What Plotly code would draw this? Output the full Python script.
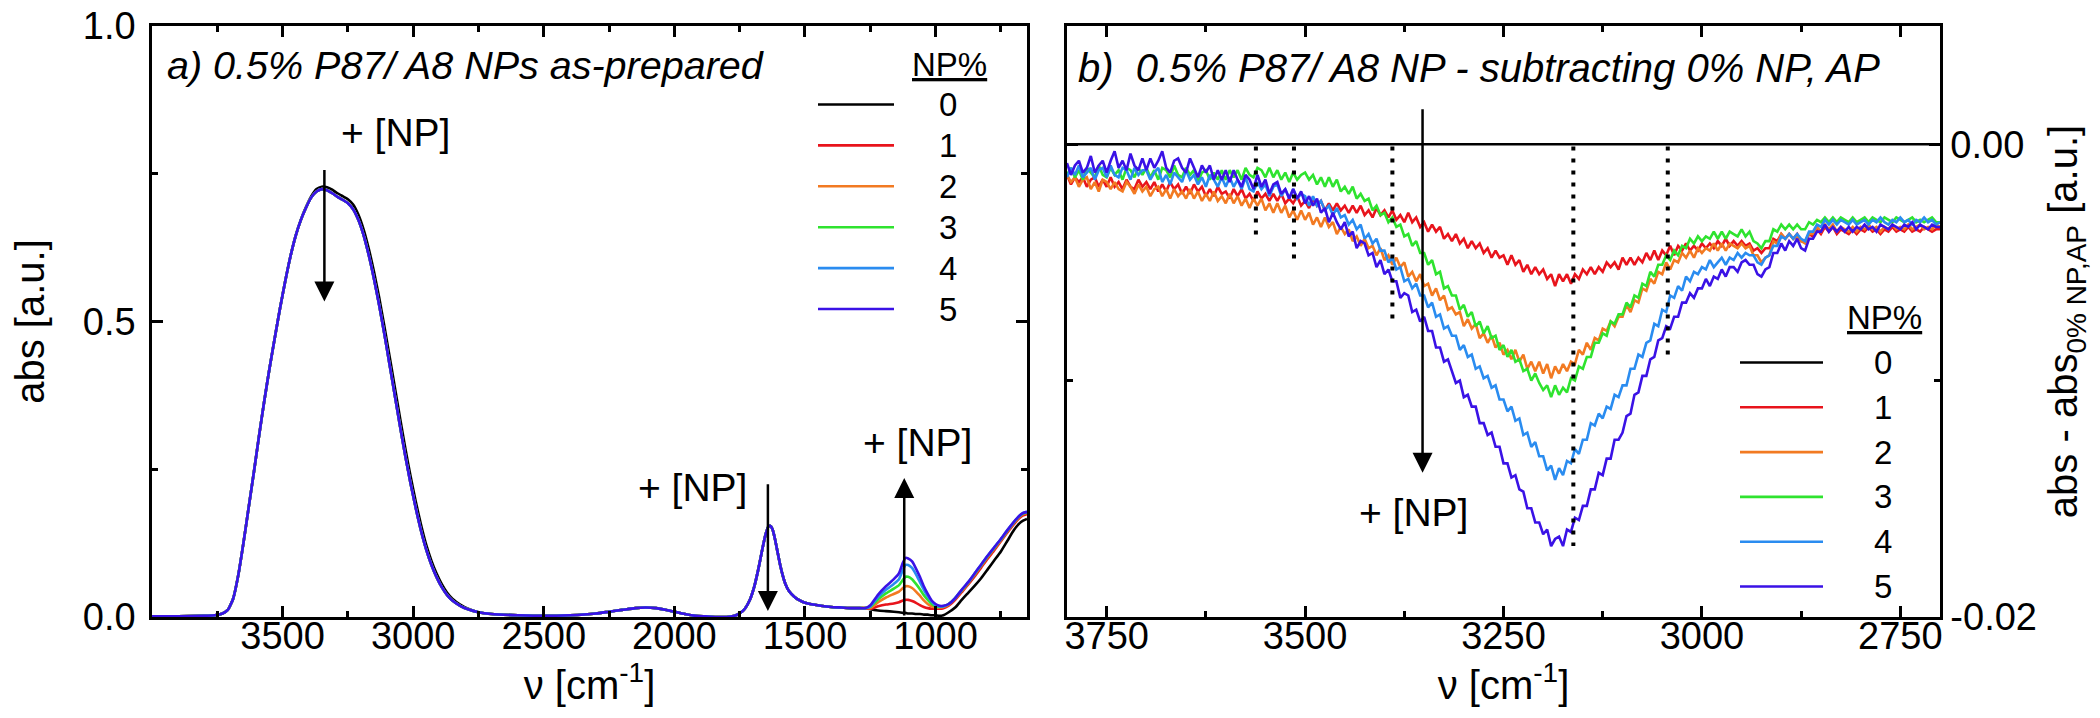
import plotly.graph_objects as go

FONT = "Liberation Sans, Arial, Helvetica, sans-serif"

# ---------------- series meta ----------------
np_labels = ["0", "1", "2", "3", "4", "5"]
np_colors = ["#000000", "#e8141c", "#f27a22", "#2fe32f", "#2a8cf0", "#3a12e6"]

# ---------------- panel a) as-prepared spectra ----------------
nu_a_head = [4000, 3900, 3800, 3760, 3730, 3710, 3690, 3670, 3650, 3630,
             3610, 3590, 3570, 3550, 3530, 3510, 3490, 3470, 3450, 3430,
             3410, 3390, 3370, 3350, 3330, 3310, 3290, 3270, 3250, 3230,
             3210, 3190, 3170, 3150, 3130, 3110, 3090, 3070, 3050, 3030,
             3010, 2990, 2970, 2950, 2930, 2910, 2890, 2870, 2850, 2820,
             2790, 2750, 2700, 2600, 2500, 2400, 2300, 2250, 2200, 2150,
             2110, 2070, 2030, 2000, 1960, 1920, 1880, 1840, 1800, 1770,
             1750, 1730, 1710, 1695, 1680, 1670, 1660, 1650, 1640, 1632,
             1624, 1615, 1605, 1595, 1585, 1575, 1560, 1540, 1520, 1500,
             1470, 1440, 1400, 1360, 1320, 1290, 1270]

abs_head_np = [0.001, 0.001, 0.002, 0.003, 0.006, 0.012, 0.030, 0.070, 0.125, 0.185,
               0.245, 0.307, 0.366, 0.421, 0.472, 0.522, 0.568, 0.610, 0.645, 0.672,
               0.693, 0.710, 0.720, 0.724, 0.722, 0.717, 0.711, 0.706, 0.700, 0.690,
               0.672, 0.646, 0.612, 0.572, 0.527, 0.478, 0.426, 0.374, 0.322, 0.272,
               0.226, 0.184, 0.146, 0.114, 0.088, 0.067, 0.050, 0.037, 0.028, 0.019,
               0.013, 0.008, 0.005, 0.003, 0.002, 0.003, 0.006, 0.009, 0.012, 0.015,
               0.016, 0.015, 0.012, 0.009, 0.005, 0.002, 0.001, 0.000, 0.000, 0.002,
               0.006, 0.014, 0.030, 0.050, 0.078, 0.100, 0.122, 0.141, 0.153, 0.154,
               0.148, 0.132, 0.110, 0.088, 0.070, 0.056, 0.043, 0.034, 0.028, 0.024,
               0.021, 0.019, 0.017, 0.016, 0.015, 0.015, 0.015]

abs_head_0 = [0.001, 0.001, 0.002, 0.003, 0.006, 0.012, 0.030, 0.070, 0.125, 0.185,
              0.245, 0.307, 0.366, 0.421, 0.472, 0.522, 0.568, 0.610, 0.645, 0.672,
              0.694, 0.712, 0.724, 0.728, 0.727, 0.723, 0.717, 0.712, 0.707, 0.698,
              0.681, 0.656, 0.623, 0.584, 0.540, 0.491, 0.440, 0.388, 0.336, 0.285,
              0.238, 0.195, 0.156, 0.122, 0.095, 0.073, 0.055, 0.041, 0.031, 0.021,
              0.014, 0.008, 0.005, 0.003, 0.002, 0.003, 0.006, 0.009, 0.012, 0.015,
              0.016, 0.015, 0.012, 0.009, 0.005, 0.002, 0.001, 0.000, 0.000, 0.002,
              0.006, 0.014, 0.030, 0.050, 0.078, 0.100, 0.122, 0.141, 0.153, 0.154,
              0.148, 0.132, 0.110, 0.088, 0.070, 0.056, 0.043, 0.034, 0.028, 0.024,
              0.021, 0.019, 0.017, 0.016, 0.015, 0.015, 0.015]

nu_a_tail = [1250, 1220, 1190, 1160, 1140, 1125, 1115, 1105, 1090, 1075,
             1060, 1045, 1030, 1015, 1000, 985, 970, 950, 925, 900,
             875, 850, 825, 800, 775, 750, 725, 700, 680, 665,
             650]

abs_tail_0 = [0.013, 0.011, 0.010, 0.009, 0.008, 0.007, 0.007, 0.006, 0.006, 0.005,
              0.005, 0.004, 0.004, 0.003, 0.003, 0.002, 0.003, 0.008, 0.016, 0.029,
              0.041, 0.053, 0.066, 0.081, 0.096, 0.111, 0.129, 0.147, 0.158, 0.163,
              0.166]
abs_tail_1 = [0.014, 0.018, 0.021, 0.023, 0.025, 0.028, 0.029, 0.029, 0.027, 0.024,
              0.020, 0.017, 0.015, 0.014, 0.014, 0.014, 0.015, 0.019, 0.029, 0.042,
              0.055, 0.069, 0.084, 0.099, 0.113, 0.128, 0.143, 0.157, 0.167, 0.172,
              0.174]
abs_tail_2 = [0.015, 0.025, 0.033, 0.039, 0.043, 0.049, 0.052, 0.052, 0.049, 0.043,
              0.036, 0.028, 0.022, 0.018, 0.016, 0.016, 0.017, 0.021, 0.031, 0.044,
              0.057, 0.072, 0.087, 0.102, 0.116, 0.130, 0.145, 0.159, 0.169, 0.174,
              0.176]
abs_tail_3 = [0.017, 0.030, 0.040, 0.048, 0.054, 0.063, 0.068, 0.068, 0.064, 0.056,
              0.047, 0.037, 0.029, 0.022, 0.018, 0.017, 0.018, 0.022, 0.032, 0.045,
              0.058, 0.073, 0.088, 0.103, 0.117, 0.131, 0.146, 0.160, 0.170, 0.175,
              0.177]
abs_tail_4 = [0.018, 0.034, 0.046, 0.056, 0.064, 0.080, 0.088, 0.088, 0.083, 0.072,
              0.059, 0.046, 0.035, 0.026, 0.020, 0.018, 0.018, 0.022, 0.032, 0.046,
              0.059, 0.074, 0.089, 0.104, 0.118, 0.132, 0.147, 0.161, 0.171, 0.176,
              0.178]
abs_tail_5 = [0.020, 0.038, 0.052, 0.064, 0.074, 0.092, 0.100, 0.099, 0.094, 0.082,
              0.068, 0.052, 0.039, 0.028, 0.022, 0.019, 0.019, 0.022, 0.032, 0.046,
              0.059, 0.074, 0.089, 0.104, 0.118, 0.132, 0.147, 0.161, 0.171, 0.176,
              0.178]

# ---------------- panel b) difference spectra (units of 1e-3 a.u.) ----------------
nu_b = list(range(3800, 2699, -5))   # instrument grid 3800 ... 2700 cm-1, 5 cm-1 steps
nu_b_zero = [3800, 2700]
diff_0 = [0.0, 0.0]

diff_1_milli = [
    -1.3, -1.7, -1.4, -1.6, -1.4, -1.8, -1.5, -1.4, -1.8, -1.5, -1.8, -1.4, -1.8, -1.6, -1.9, -1.5, -1.8, -1.9, -1.5, -1.8,
    -1.6, -1.9, -1.6, -2.0, -1.7, -2.0, -1.6, -1.9, -1.7, -2.1, -1.8, -2.1, -1.7, -2.0, -1.8, -2.2, -1.9, -2.2, -1.8, -2.1,
    -2.0, -2.3, -1.9, -2.2, -1.9, -2.3, -2.1, -2.4, -2.0, -2.3, -2.1, -2.4, -2.1, -2.4, -2.1, -2.5, -2.3, -2.5, -2.2, -2.6,
    -2.4, -2.7, -2.3, -2.6, -2.4, -2.8, -2.5, -2.8, -2.5, -2.8, -2.6, -2.9, -2.6, -2.9, -2.6, -3.0, -2.8, -3.1, -2.7, -3.0,
    -2.8, -3.1, -2.8, -3.2, -3.0, -3.3, -2.9, -3.3, -3.1, -3.5, -3.3, -3.7, -3.4, -3.7, -3.5, -4.0, -3.8, -4.1, -3.8, -4.2,
    -4.0, -4.4, -4.1, -4.4, -4.2, -4.6, -4.4, -4.8, -4.5, -4.8, -4.7, -5.1, -4.7, -5.1, -4.9, -5.4, -5.1, -5.5, -5.2, -5.5,
    -5.3, -5.7, -5.5, -6.0, -5.5, -5.8, -5.5, -5.9, -5.5, -5.7, -5.3, -5.5, -5.2, -5.5, -5.2, -5.4, -5.0, -5.2, -5.0, -5.3,
    -4.8, -5.1, -4.8, -5.1, -4.8, -5.0, -4.6, -4.9, -4.5, -4.9, -4.5, -4.7, -4.3, -4.7, -4.3, -4.5, -4.2, -4.5, -4.3, -4.5,
    -4.2, -4.4, -4.2, -4.4, -4.1, -4.3, -4.0, -4.3, -4.1, -4.3, -4.1, -4.3, -4.2, -4.5, -4.4, -4.6, -4.4, -4.4, -4.0, -4.1,
    -3.8, -4.0, -3.8, -4.0, -3.8, -4.1, -4.1, -3.8, -3.9, -3.6, -3.8, -3.5, -3.7, -3.5, -3.8, -3.6, -3.7, -3.8, -3.6, -3.8,
    -3.6, -3.7, -3.5, -3.7, -3.6, -3.8, -3.6, -3.7, -3.5, -3.7, -3.6, -3.7, -3.5, -3.7, -3.6, -3.7, -3.5, -3.6, -3.7, -3.6,
    -3.6]
diff_2_milli = [
    -1.3, -1.6, -1.4, -1.8, -1.5, -1.4, -1.9, -1.6, -2.0, -1.5, -1.6, -1.9, -1.6, -1.9, -2.0, -1.6, -1.8, -2.1, -1.7, -2.0,
    -1.8, -2.2, -1.9, -1.8, -2.2, -1.9, -2.3, -1.9, -2.2, -2.0, -2.3, -1.9, -2.3, -2.0, -2.4, -2.1, -2.4, -2.0, -2.4, -2.2,
    -2.5, -2.1, -2.5, -2.2, -2.6, -2.3, -2.7, -2.3, -2.6, -2.3, -2.8, -2.5, -2.9, -2.5, -2.9, -2.6, -3.1, -2.8, -3.2, -2.8,
    -3.2, -2.9, -3.4, -3.1, -3.5, -3.1, -3.5, -3.3, -3.8, -3.5, -3.8, -3.6, -4.1, -3.9, -4.3, -4.0, -4.4, -4.3, -4.7, -4.4,
    -4.9, -4.7, -5.1, -4.8, -5.2, -5.0, -5.6, -5.4, -5.8, -5.5, -6.0, -5.9, -6.4, -6.1, -6.6, -6.4, -7.0, -6.9, -7.2, -7.1,
    -7.7, -7.4, -7.8, -7.6, -8.2, -8.0, -8.4, -8.1, -8.6, -8.4, -8.9, -8.7, -9.1, -8.7, -9.2, -8.9, -9.5, -9.2, -9.6, -9.2,
    -9.7, -9.3, -9.9, -9.4, -9.7, -9.3, -9.6, -9.2, -9.3, -8.7, -8.9, -8.4, -8.7, -8.2, -8.3, -7.8, -7.9, -7.5, -7.7, -7.3,
    -7.3, -6.8, -7.1, -6.6, -6.7, -6.1, -6.2, -5.7, -5.9, -5.4, -5.5, -5.0, -5.3, -4.9, -5.0, -4.6, -4.8, -4.5, -4.8, -4.4,
    -4.6, -4.4, -4.5, -4.2, -4.5, -4.2, -4.5, -4.2, -4.3, -4.4, -4.2, -4.4, -4.3, -4.7, -4.7, -5.0, -4.8, -4.7, -4.1, -4.2,
    -3.8, -4.0, -3.8, -4.0, -3.9, -4.1, -4.2, -3.8, -3.8, -3.5, -3.7, -3.4, -3.6, -3.4, -3.7, -3.5, -3.6, -3.7, -3.5, -3.7,
    -3.5, -3.6, -3.4, -3.6, -3.5, -3.7, -3.5, -3.6, -3.4, -3.6, -3.5, -3.6, -3.4, -3.6, -3.5, -3.4, -3.6, -3.5, -3.6, -3.4,
    -3.5]
diff_3_milli = [
    -1.3, -1.0, -1.4, -1.1, -1.5, -1.0, -1.2, -1.4, -0.9, -1.3, -1.4, -1.0, -1.3, -1.1, -1.5, -1.0, -1.1, -1.4, -1.0, -1.3,
    -1.0, -1.4, -1.1, -1.5, -1.0, -1.1, -1.4, -0.9, -1.3, -1.4, -1.0, -1.3, -1.1, -1.6, -1.2, -1.1, -1.5, -1.2, -1.5, -1.1,
    -1.5, -1.1, -1.4, -1.1, -1.5, -1.0, -1.3, -1.4, -1.0, -1.1, -1.4, -1.0, -1.4, -1.1, -1.5, -1.2, -1.6, -1.2, -1.5, -1.3,
    -1.2, -1.5, -1.3, -1.7, -1.4, -1.8, -1.4, -1.8, -1.5, -2.0, -1.8, -2.1, -1.8, -2.3, -2.1, -2.4, -2.3, -2.8, -2.6, -3.0,
    -2.9, -3.3, -3.1, -3.5, -3.4, -3.9, -3.8, -4.3, -4.1, -4.6, -4.6, -5.1, -4.9, -5.5, -5.4, -6.1, -6.0, -6.4, -6.4, -7.0,
    -6.8, -7.3, -7.1, -7.7, -7.5, -8.0, -7.7, -8.2, -8.1, -8.7, -8.5, -9.0, -8.7, -9.2, -9.1, -9.6, -9.5, -10.0, -9.7, -10.1,
    -10.4, -10.2, -10.7, -10.2, -10.6, -10.3, -10.5, -9.9, -10.0, -9.4, -9.5, -9.0, -9.0, -8.4, -8.4, -8.0, -8.1, -7.5, -7.6, -7.2,
    -7.2, -6.7, -6.9, -6.4, -6.5, -5.9, -6.0, -5.4, -5.6, -5.1, -5.1, -4.7, -4.9, -4.5, -4.7, -4.3, -4.4, -4.0, -4.2, -3.9,
    -4.1, -3.9, -4.0, -3.7, -4.0, -3.7, -4.0, -3.7, -3.8, -3.9, -3.6, -3.9, -3.7, -4.1, -4.2, -4.4, -4.1, -4.1, -3.6, -3.7,
    -3.4, -3.6, -3.4, -3.6, -3.4, -3.6, -3.6, -3.3, -3.4, -3.2, -3.3, -3.1, -3.3, -3.1, -3.3, -3.1, -3.2, -3.3, -3.1, -3.3,
    -3.2, -3.1, -3.3, -3.1, -3.2, -3.3, -3.1, -3.2, -3.3, -3.1, -3.2, -3.3, -3.2, -3.1, -3.3, -3.2, -3.3, -3.2, -3.1, -3.3,
    -3.3]
diff_4_milli = [
    -1.4, -1.0, -1.3, -0.9, -1.4, -1.2, -1.0, -1.5, -1.1, -1.0, -1.4, -0.9, -1.3, -1.4, -1.0, -1.1, -1.5, -1.0, -1.3, -1.1,
    -1.1, -1.5, -1.2, -1.0, -1.6, -1.3, -1.7, -1.2, -1.4, -1.6, -1.1, -1.5, -1.3, -1.7, -1.4, -1.8, -1.3, -1.5, -1.8, -1.4,
    -1.8, -1.4, -1.8, -1.5, -1.9, -1.4, -1.9, -2.0, -1.6, -1.9, -1.7, -2.2, -1.8, -1.7, -2.2, -1.9, -2.3, -1.9, -2.3, -2.1,
    -2.2, -2.6, -2.2, -2.6, -2.4, -2.8, -2.6, -3.0, -2.7, -3.1, -3.0, -3.4, -3.2, -3.6, -3.4, -4.0, -3.8, -4.2, -4.0, -4.5,
    -4.5, -5.0, -4.8, -5.3, -5.2, -5.8, -5.7, -6.1, -5.9, -6.4, -6.4, -6.9, -6.7, -7.3, -7.2, -7.8, -7.7, -8.1, -8.1, -8.7,
    -8.5, -9.0, -8.9, -9.5, -9.4, -9.9, -9.8, -10.3, -10.2, -10.8, -10.8, -11.3, -11.1, -11.7, -11.6, -12.3, -12.2, -12.8, -12.6, -13.2,
    -13.2, -13.8, -13.6, -14.2, -13.7, -14.0, -13.4, -13.5, -12.9, -13.1, -12.5, -12.5, -11.8, -11.9, -11.4, -11.6, -11.1, -11.2, -10.6, -10.7,
    -10.2, -10.2, -9.5, -9.5, -8.9, -9.0, -8.4, -8.3, -7.6, -7.7, -7.0, -7.1, -6.4, -6.5, -6.0, -6.2, -5.6, -5.8, -5.4, -5.5,
    -5.2, -5.3, -4.9, -5.2, -5.0, -4.8, -5.1, -4.8, -4.9, -4.6, -4.8, -4.6, -4.7, -4.7, -5.0, -5.1, -4.8, -4.7, -4.3, -4.3,
    -3.9, -4.0, -3.8, -4.0, -3.8, -4.0, -4.1, -3.7, -3.7, -3.4, -3.5, -3.2, -3.4, -3.2, -3.4, -3.2, -3.3, -3.4, -3.2, -3.4,
    -3.3, -3.2, -3.4, -3.2, -3.3, -3.1, -3.3, -3.4, -3.2, -3.3, -3.1, -3.3, -3.2, -3.4, -3.2, -3.3, -3.1, -3.3, -3.2, -3.4,
    -3.3]
diff_5_milli = [
    -0.8, -1.3, -0.9, -0.7, -1.2, -1.0, -0.5, -1.2, -0.9, -0.7, -1.2, -0.7, -0.3, -1.0, -0.7, -1.1, -0.4, -0.9, -1.1, -0.6,
    -1.1, -0.6, -1.0, -0.7, -0.3, -1.0, -1.2, -0.7, -0.6, -1.0, -1.2, -0.6, -1.0, -1.4, -0.9, -1.2, -0.9, -1.5, -1.1, -1.5,
    -1.1, -1.6, -1.1, -1.5, -1.8, -1.3, -1.5, -1.9, -1.3, -1.8, -1.5, -2.1, -1.7, -1.6, -2.1, -1.9, -2.3, -1.9, -2.3, -2.0,
    -2.5, -2.2, -2.6, -2.3, -2.9, -2.7, -3.3, -2.9, -3.3, -3.6, -3.3, -3.9, -3.7, -4.4, -4.1, -4.2, -4.7, -4.6, -5.2, -4.9,
    -5.5, -5.3, -5.8, -5.8, -6.5, -6.3, -6.4, -7.1, -7.0, -7.5, -7.3, -7.9, -7.9, -8.6, -8.6, -9.2, -9.1, -9.6, -10.1, -10.0,
    -10.7, -10.6, -11.1, -11.1, -11.8, -11.8, -12.3, -12.2, -12.8, -12.8, -13.5, -13.5, -14.1, -14.0, -14.6, -14.7, -15.4, -15.4, -16.0, -16.0,
    -16.5, -16.3, -17.0, -16.7, -16.6, -17.0, -16.3, -16.4, -15.8, -15.9, -15.3, -15.3, -14.6, -14.6, -13.9, -14.0, -13.3, -13.3, -12.5, -12.5,
    -12.2, -11.5, -11.4, -10.6, -10.5, -9.8, -9.8, -9.1, -9.0, -8.3, -8.2, -7.7, -7.8, -7.3, -7.3, -6.7, -6.7, -6.3, -6.5, -6.1,
    -6.1, -5.7, -6.0, -5.6, -5.7, -5.3, -5.6, -5.2, -5.2, -5.4, -5.0, -4.9, -5.1, -5.1, -5.5, -5.6, -5.3, -5.2, -4.6, -4.6,
    -4.2, -4.5, -4.1, -4.3, -4.0, -4.4, -4.5, -4.0, -4.0, -3.7, -3.7, -3.4, -3.7, -3.5, -3.7, -3.5, -3.7, -3.5, -3.7, -3.5,
    -3.6, -3.4, -3.6, -3.5, -3.7, -3.4, -3.5, -3.6, -3.4, -3.5, -3.6, -3.4, -3.5, -3.3, -3.6, -3.4, -3.5, -3.6, -3.4, -3.5,
    -3.5]

# marker lines in panel b (position cm-1, lower end in a.u.)
dotted_nu = [3562, 3514, 3390, 3162, 3043]
dotted_low = [-0.0040, -0.0050, -0.0075, -0.0170, -0.0090]

# "+ [NP]" arrows: (x, tip y, tail y)
arrows_a = [(3340, 0.534, 0.759), (1642, 0.010, 0.227), (1120, 0.235, 0.0)]
labels_a = [(3068, 0.819), (1932, 0.219), (1070, 0.296)]
arrow_b = (3352, -0.0139, 0.00154)
label_b = (3363, -0.0156)

# ---------------- build figure ----------------
W, H = 2100, 718
ML, MR, MT, MB = 144, 168, 18, 109
PW, PH = W - ML - MR, H - MT - MB


def px(xp, yp):
    return (xp - ML) / PW, (H - MB - yp) / PH


fig = go.Figure()

tails_a = [abs_tail_0, abs_tail_1, abs_tail_2, abs_tail_3, abs_tail_4, abs_tail_5]
for i in range(6):
    head = abs_head_0 if i == 0 else abs_head_np
    fig.add_trace(go.Scatter(
        x=nu_a_head + nu_a_tail, y=head + tails_a[i], mode="lines",
        name=np_labels[i], showlegend=False, xaxis="x", yaxis="y",
        line=dict(color=np_colors[i], width=2.6, shape="spline", smoothing=0.5)))

diffs_b = [diff_1_milli, diff_2_milli, diff_3_milli, diff_4_milli, diff_5_milli]
fig.add_trace(go.Scatter(x=nu_b_zero, y=diff_0, mode="lines", name="0",
                         showlegend=False, xaxis="x2", yaxis="y2",
                         line=dict(color=np_colors[0], width=2.6)))
for i, d in enumerate(diffs_b, start=1):
    assert len(d) == len(nu_b), (i, len(d), len(nu_b))
    fig.add_trace(go.Scatter(
        x=nu_b, y=[v * 1e-3 for v in d], mode="lines", name=np_labels[i],
        showlegend=False, xaxis="x2", yaxis="y2",
        line=dict(color=np_colors[i], width=2.6)))

tickfont = dict(family=FONT, size=38, color="black")
titlefont = dict(family=FONT, size=40, color="black")
axis_common = dict(showline=True, linecolor="black", linewidth=2.5, mirror="ticks",
                   ticks="inside", ticklen=11, tickwidth=2.5, tickcolor="black",
                   showgrid=False, zeroline=False, tickfont=tickfont, automargin=False,
                   ticklabeloverflow="allow")
minor_common = dict(ticks="inside", ticklen=6, tickwidth=2.5, tickcolor="black", showgrid=False)

xa_end = (1019 - ML) / PW
xb_start = (1059 - ML) / PW

fig.update_layout(
    width=W, height=H, template="none",
    paper_bgcolor="white", plot_bgcolor="white",
    margin=dict(l=ML, r=MR, t=MT, b=MB),
    font=dict(family=FONT, color="black"),
    showlegend=False,
    xaxis=dict(axis_common, domain=[0, xa_end], range=[4000, 650], anchor="y",
               tickvals=[3500, 3000, 2500, 2000, 1500, 1000], ticklabelstandoff=-16,
               minor=dict(minor_common, tickvals=[3750, 3250, 2750, 2250, 1750, 1250, 750]),
               title=dict(text="ν [cm<sup>-1</sup>]", font=titlefont, standoff=10)),
    yaxis=dict(axis_common, domain=[0, 1], range=[0, 1.0], anchor="x",
               tickvals=[0, 0.5, 1.0], ticktext=["0.0", "0.5", "1.0"], ticklabelstandoff=6,
               minor=dict(minor_common, tickvals=[0.25, 0.75]),
               title=dict(text="abs [a.u.]", font=titlefont, standoff=26)),
    xaxis2=dict(axis_common, domain=[xb_start, 1], range=[3800, 2700], anchor="y2",
                tickvals=[3750, 3500, 3250, 3000, 2750], ticklabelstandoff=-16,
                minor=dict(minor_common, tickvals=[3625, 3375, 3125, 2875]),
                title=dict(text="ν [cm<sup>-1</sup>]", font=titlefont, standoff=10)),
    yaxis2=dict(axis_common, domain=[0, 1], range=[-0.02, 0.005], anchor="x2", side="right",
                tickvals=[0, -0.02], ticktext=["0.00", "-0.02"],
                minor=dict(minor_common, tickvals=[-0.01]),
                title=dict(text="abs - abs<sub>0% NP,AP</sub> [a.u.]", font=titlefont, standoff=14)),
)

annotations = []
shapes = []

# panel titles
x0, y0 = px(157, 57)
annotations.append(dict(xref="paper", yref="paper", x=x0, y=y0, xanchor="left", yanchor="middle",
                        text="<i>a) 0.5% P87/ A8 NPs as-prepared</i>", showarrow=False,
                        font=dict(family=FONT, size=39.5, color="black")))
x0, y0 = px(1068, 60)
annotations.append(dict(xref="paper", yref="paper", x=x0, y=y0, xanchor="left", yanchor="middle",
                        text="<i>b)\u00a0 0.5% P87/ A8 NP - subtracting 0% NP, AP</i>", showarrow=False,
                        font=dict(family=FONT, size=40, color="black")))

# arrows and "+ [NP]" labels
arrow_style = dict(showarrow=True, arrowhead=2, arrowsize=1.6, arrowwidth=2.5,
                   arrowcolor="black", text="", standoff=0, startstandoff=0)
for (xx, tip, tail) in arrows_a:
    annotations.append(dict(arrow_style, xref="x", yref="y", axref="x", ayref="y",
                            x=xx, y=tip, ax=xx, ay=tail))
for (xx, yy) in labels_a:
    annotations.append(dict(xref="x", yref="y", x=xx, y=yy, text="+ [NP]", showarrow=False,
                            xanchor="center", yanchor="middle",
                            font=dict(family=FONT, size=39, color="black")))
annotations.append(dict(arrow_style, xref="x2", yref="y2", axref="x2", ayref="y2",
                        x=arrow_b[0], y=arrow_b[1], ax=arrow_b[0], ay=arrow_b[2]))
annotations.append(dict(xref="x2", yref="y2", x=label_b[0], y=label_b[1], text="+ [NP]",
                        showarrow=False, xanchor="center", yanchor="middle",
                        font=dict(family=FONT, size=39, color="black")))

# dotted marker lines
for xx, lo in zip(dotted_nu, dotted_low):
    shapes.append(dict(type="line", xref="x2", yref="y2", x0=xx, x1=xx, y0=-0.0001, y1=lo,
                       line=dict(color="black", width=4, dash="4px,8px")))


# legends (drawn manually)
def legend(header_xy, line_x0, line_x1, label_x, row_y0, row_step):
    hx, hy = px(*header_xy)
    annotations.append(dict(xref="paper", yref="paper", x=hx, y=hy, text="<u>NP%</u>",
                            showarrow=False, xanchor="center", yanchor="middle",
                            font=dict(family=FONT, size=33, color="black")))
    for i, (lab, col) in enumerate(zip(np_labels, np_colors)):
        ry = row_y0 + i * row_step
        a0, b0 = px(line_x0, ry)
        a1, _ = px(line_x1, ry)
        shapes.append(dict(type="line", xref="paper", yref="paper", x0=a0, x1=a1, y0=b0, y1=b0,
                           line=dict(color=col, width=2.6)))
        lx, ly = px(label_x, ry)
        annotations.append(dict(xref="paper", yref="paper", x=lx, y=ly, text=lab, showarrow=False,
                                xanchor="center", yanchor="middle",
                                font=dict(family=FONT, size=33, color="black")))


legend((941, 56), 810, 886, 940, 96.5, 40.9)
legend((1876, 309), 1732, 1815, 1875, 354.5, 44.8)

fig.update_layout(annotations=annotations, shapes=shapes)

fig.write_html("out.html")
